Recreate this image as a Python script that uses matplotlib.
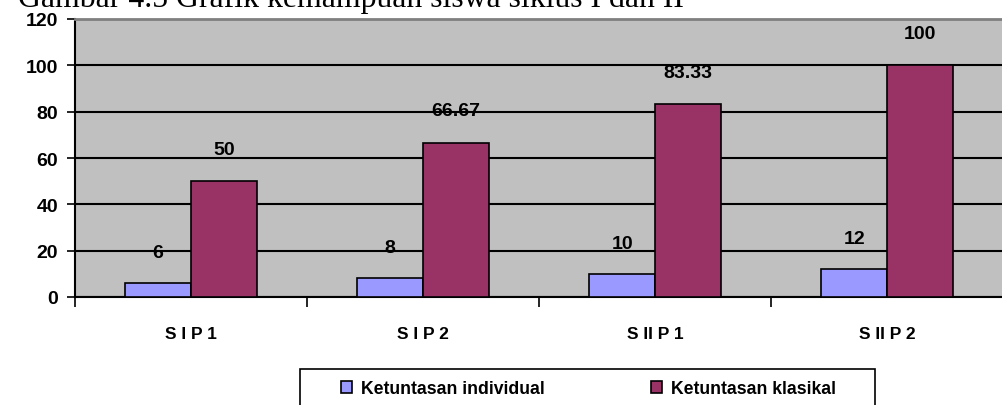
import matplotlib
matplotlib.use("Agg")
import matplotlib.pyplot as plt
from matplotlib.patches import Rectangle
import numpy as np

# data
kategori = ["S I P 1", "S I P 2", "S II P 1", "S II P 2"]
individual = [6, 8, 10, 12]
klasikal = [50, 66.67, 83.33, 100]
label_individual = ["6", "8", "10", "12"]
label_klasikal = ["50", "66.67", "83.33", "100"]

plt.rcParams['font.family'] = ['Liberation Sans', 'DejaVu Sans']

W, H = 1003, 406
fig = plt.figure(figsize=(W/100, H/100), dpi=100)
ax = fig.add_axes([75/W, 1 - 298/H, 1 - 75/W, 278/H])
ax.set_facecolor('#C0C0C0')

x = np.arange(len(kategori))
w = 0.283
b1 = ax.bar(x - w/2, individual, w, color='#9999FF', edgecolor='black', linewidth=1.2,
            label='Ketuntasan individual', zorder=3)
b2 = ax.bar(x + w/2, klasikal, w, color='#993366', edgecolor='black', linewidth=1.2,
            label='Ketuntasan klasikal', zorder=3)

for i in range(len(kategori)):
    ax.annotate(label_individual[i], (x[i] - w/2, individual[i]), xytext=(0, 22),
                textcoords='offset points', ha='center', va='center',
                fontsize=14, fontweight='bold', zorder=4)
    ax.annotate(label_klasikal[i], (x[i] + w/2, klasikal[i]), xytext=(0, 23),
                textcoords='offset points', ha='center', va='center',
                fontsize=14, fontweight='bold', zorder=4)

ax.set_ylim(0, 120)
ax.set_xlim(-0.5, 3.5)
ax.set_yticks(range(0, 121, 20))
ax.yaxis.grid(True, color='black', linewidth=1.5, zorder=1)
ax.tick_params(axis='y', direction='out', length=6, width=1.2, labelsize=14, pad=6)
for t in ax.get_yticklabels():
    t.set_fontweight('bold')

ax.set_xticks(x)
ax.set_xticklabels(kategori, fontsize=12.5, fontweight='bold')
ax.tick_params(axis='x', length=0, pad=21)
ax.set_xticks([-0.5, 0.5, 1.5, 2.5, 3.5], minor=True)
ax.tick_params(axis='x', which='minor', direction='out', length=7, width=1.2)

ax.spines['left'].set_linewidth(1.5)
ax.spines['bottom'].set_linewidth(1.5)
ax.spines['top'].set_color('#808080')
ax.spines['top'].set_linewidth(2)
ax.spines['right'].set_visible(False)

# judul terpotong di atas
fig.text(18/W, 1 - 7/H, "Gambar 4.5 Grafik kemampuan siswa siklus I dan II",
         family='Liberation Serif', fontsize=22.9, va='baseline', ha='left')

# kotak legenda
fig.patches.append(Rectangle((300/W, -0.05), 575/W, 0.05 + 1 - 370/H,
                             transform=fig.transFigure, facecolor='white',
                             edgecolor='black', linewidth=1.2))
leg = fig.legend(handles=[b1, b2], loc='center left',
                 bbox_to_anchor=(341/W, 1 - 390/H), ncol=2, frameon=False,
                 prop={'weight': 'bold', 'size': 12.7}, handlelength=0.65, handleheight=0.65,
                 handletextpad=0.5, borderpad=0, borderaxespad=0, columnspacing=6.0)

fig.savefig("out.png", dpi=100)
